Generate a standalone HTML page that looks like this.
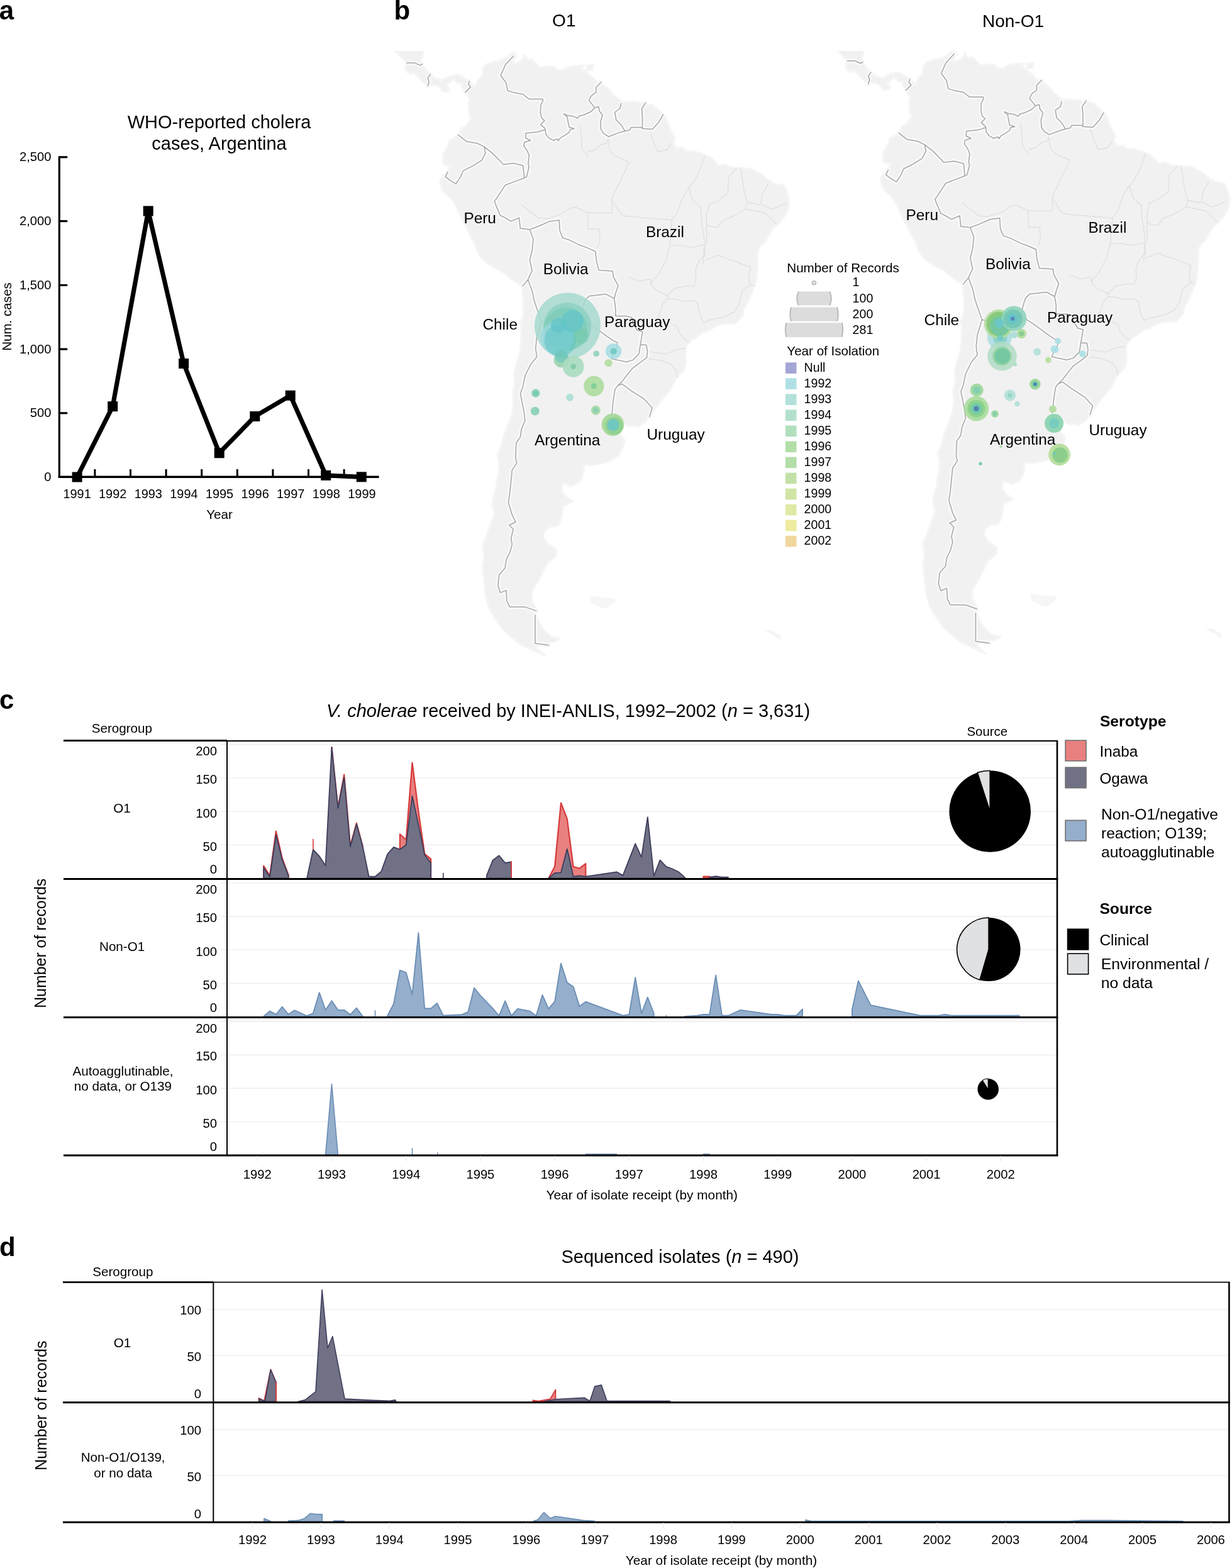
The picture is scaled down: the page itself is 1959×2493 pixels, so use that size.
<!DOCTYPE html>
<html><head><meta charset="utf-8"><title>Figure</title>
<style>html,body{margin:0;padding:0;background:#fff;} svg{display:block;} text{font-family:'Liberation Sans', Arial, Helvetica, sans-serif;}</style>
</head><body>
<svg width="1959" height="2493" viewBox="0 0 1959 2493" font-family="'Liberation Sans', Arial, Helvetica, sans-serif">
<rect width="1959" height="2493" fill="#fff"/>
<text x="626.6" y="31.0" font-size="42" font-weight="bold">b</text>
<text x="896.8" y="42.3" font-size="28" text-anchor="middle">O1</text>
<text x="1611.0" y="43.0" font-size="28" text-anchor="middle">Non-O1</text>
<defs><clipPath id="clipO1"><rect x="560" y="81" width="740" height="1000"/></clipPath><clipPath id="clipNon"><rect x="1300" y="81" width="659" height="1000"/></clipPath></defs>
<g clip-path="url(#clipO1)">
<path d="M613.4,69.1 L673.1,69.1 L673.1,77.7 L671.9,88.7 L669.5,97.2 L670.7,102.1 L675.5,108.1 L679.1,113.0 L685.0,118.4 L688.6,122.7 L694.6,125.1 L703.0,127.5 L710.1,123.9 L716.1,120.9 L726.8,118.4 L735.2,121.5 L741.2,126.3 L745.9,129.3 L751.9,133.6 L753.1,138.4 L756.7,134.8 L759.1,127.5 L765.0,122.7 L767.4,119.7 L767.4,113.0 L768.6,107.5 L772.2,103.3 L777.0,100.8 L783.0,99.6 L784.2,97.8 L792.5,97.2 L799.7,94.2 L806.8,90.5 L811.0,86.2 L814.6,83.2 L818.8,85.0 L821.2,89.9 L815.8,96.0 L815.2,100.8 L820.0,100.8 L827.1,97.8 L831.9,93.5 L833.7,86.2 L836.7,92.3 L839.1,95.4 L846.2,94.8 L853.4,102.1 L858.2,106.9 L866.5,106.3 L871.3,105.7 L880.9,105.7 L884.4,110.6 L894.0,111.8 L902.4,107.5 L908.3,105.7 L917.9,104.5 L929.8,103.9 L926.2,106.9 L922.7,108.1 L929.8,113.0 L934.6,116.6 L941.8,122.7 L947.7,129.9 L953.7,131.1 L963.3,138.4 L970.4,144.4 L975.8,151.6 L983.5,157.6 L988.3,161.2 L997.9,161.8 L1011.0,161.8 L1019.4,163.6 L1025.3,164.2 L1037.3,167.2 L1045.6,173.8 L1052.8,180.4 L1054.0,182.8 L1058.8,186.4 L1062.4,197.2 L1067.1,209.1 L1073.1,218.7 L1070.7,227.0 L1075.5,235.4 L1085.0,234.8 L1092.2,240.2 L1099.4,240.2 L1108.9,242.0 L1120.9,246.1 L1130.4,250.9 L1138.8,259.3 L1141.2,263.5 L1150.7,261.7 L1162.6,265.8 L1171.0,267.0 L1182.9,267.6 L1194.9,268.8 L1210.4,277.2 L1222.3,286.8 L1233.1,292.8 L1246.2,294.6 L1249.8,302.4 L1252.8,310.8 L1254.6,318.6 L1254.0,328.8 L1249.8,339.7 L1243.8,349.4 L1235.5,357.9 L1228.3,364.5 L1222.3,373.7 L1216.4,384.7 L1210.4,389.6 L1205.6,396.9 L1204.4,411.7 L1204.4,426.6 L1202.1,447.8 L1196.1,464.1 L1188.9,480.6 L1181.8,493.4 L1180.6,502.4 L1168.6,514.7 L1155.5,514.7 L1144.7,516.0 L1135.2,520.5 L1126.8,525.7 L1117.3,528.3 L1108.9,534.9 L1098.2,541.4 L1091.0,552.0 L1089.8,562.7 L1091.0,576.1 L1087.4,589.6 L1076.7,599.2 L1069.5,612.9 L1063.5,622.6 L1054.0,633.8 L1046.8,642.3 L1039.7,653.6 L1032.5,661.5 L1026.5,670.9 L1014.6,678.9 L1007.4,676.7 L999.1,678.1 L989.5,671.6 L980.0,671.6 L974.0,666.6 L971.6,670.2 L972.8,673.8 L980.0,679.6 L987.1,684.0 L985.9,691.3 L993.1,698.7 L991.9,707.6 L983.5,724.2 L971.6,731.8 L956.1,737.1 L939.4,739.4 L927.4,737.9 L928.6,745.6 L926.2,758.0 L920.3,767.4 L908.3,773.0 L895.2,767.4 L892.8,780.1 L900.0,789.8 L910.7,796.2 L903.6,801.1 L895.2,804.4 L894.0,814.2 L891.6,827.5 L886.8,835.9 L874.9,837.6 L866.5,844.4 L863.6,853.0 L870.1,863.4 L879.7,870.3 L885.0,873.8 L883.3,884.4 L868.9,897.0 L863.0,909.7 L855.8,924.4 L853.4,927.2 L846.2,939.4 L845.0,954.6 L853.4,969.2 L851.0,974.1 L854.6,984.0 L861.8,998.0 L871.3,1008.2 L876.1,1012.3 L890.4,1015.4 L882.1,1020.5 L866.5,1021.6 L852.2,1028.9 L866.5,1042.6 L846.2,1033.1 L828.3,1024.7 L812.8,1012.3 L800.9,1002.0 L786.5,982.0 L778.2,968.2 L772.2,947.0 L769.8,924.4 L767.4,902.4 L769.8,884.4 L767.4,866.8 L774.6,849.6 L780.6,832.6 L786.5,815.9 L783.0,802.7 L785.3,786.6 L788.9,777.0 L790.1,764.3 L793.7,751.8 L793.7,739.4 L791.3,722.7 L796.1,712.1 L798.5,703.2 L800.9,692.8 L805.6,682.5 L810.4,668.0 L814.0,659.4 L815.2,650.8 L816.4,639.5 L815.2,625.4 L818.8,607.4 L817.6,593.7 L821.2,577.4 L824.7,569.4 L827.1,558.7 L828.3,546.7 L828.3,533.6 L829.5,523.1 L827.1,515.3 L831.9,503.7 L833.1,489.5 L832.5,479.3 L830.7,466.7 L830.7,456.6 L823.6,450.3 L818.2,447.2 L809.2,440.3 L802.1,434.0 L790.1,427.8 L779.4,421.6 L771.0,415.4 L763.9,408.0 L759.1,399.4 L756.7,390.8 L753.1,383.4 L748.9,377.9 L745.9,371.2 L742.4,362.7 L736.4,353.0 L731.6,342.1 L726.8,331.2 L720.9,320.4 L716.1,314.4 L705.3,304.8 L701.8,298.8 L701.2,294.0 L699.4,288.6 L703.0,280.8 L710.7,273.6 L714.9,266.4 L717.3,262.9 L712.5,262.9 L708.9,262.9 L703.6,259.3 L705.3,252.1 L704.2,244.9 L709.5,237.8 L713.7,228.2 L714.9,223.4 L719.7,220.5 L726.8,216.3 L728.6,215.7 L730.4,211.5 L734.0,203.1 L741.2,200.8 L747.1,191.2 L749.5,186.4 L745.9,181.6 L745.9,173.2 L744.8,166.0 L747.1,158.8 L744.8,154.0 L740.0,146.8 L736.4,142.0 L734.0,136.0 L737.6,132.3 L728.0,132.3 L720.9,125.7 L713.7,132.3 L710.1,134.8 L714.9,143.2 L710.1,146.2 L704.2,145.6 L700.6,140.8 L694.6,136.0 L687.4,134.8 L680.3,136.6 L675.5,132.3 L670.7,128.7 L664.8,121.5 L658.8,116.6 L655.2,113.0 L654.0,117.8 L646.8,114.2 L644.5,108.1 L645.6,102.1 L646.8,99.6 L640.9,93.5 L633.7,86.2 L628.9,82.6 L624.2,76.4 L613.4,69.1 Z M931.0,112.4 L934.6,103.9 L943.0,102.7 L941.8,111.2 Z" fill="#f1f1f1" stroke="#f5f5f5" stroke-width="3" stroke-linejoin="round"/>
<path d="M938.2,947.0 L951.3,948.9 L963.3,950.8 L975.2,950.8 L980.0,954.6 L971.6,962.4 L962.1,968.2 L951.3,964.3 L939.4,958.5 Z" fill="#f6f6f6"/>
<path d="M1216.4,1002.0 L1228.3,1003.1 L1240.3,1010.2 L1242.6,1018.5 L1233.1,1012.3 L1221.2,1006.1 Z" fill="#f5f5f5"/>
<path d="M922.2,200.0 L924.5,218.3 L925.2,235.0 L932.9,245.7 L935.1,248.7 M935.1,241.1 L946.6,238.1 L954.2,230.4 L964.8,227.4 L967.1,219.8 L967.9,210.0 M967.1,219.8 L969.4,238.1 L977.0,247.2 L993.8,254.8 L999.8,257.8 M999.8,257.8 L992.2,276.1 L983.1,294.4 L974.0,312.7 L972.4,318.7 L974.0,337.0 L972.4,338.5 M972.4,338.5 L934.4,338.5 L925.2,334.0 L916.1,329.4 L907.0,330.9 L893.3,340.0 L870.4,347.7 L855.2,346.1 L840.0,334.0 L830.0,326.0 M934.4,338.5 L935.1,364.4 L952.6,364.4 L954.2,382.7 L949.6,394.9 M974.0,318.7 L977.0,324.8 L989.2,343.1 L1022.7,346.1 L1068.3,349.9 M1068.3,349.9 L1077.5,337.0 L1083.6,318.7 L1091.2,303.5 L1095.2,298.7 M1068.3,349.9 L1065.3,390.3 L1059.2,413.1 L1047.0,436.0 L1034.9,451.2 L1034.8,444.4 M1065.3,390.3 L1083.6,390.3 L1100.0,393.3 L1119.8,389.0 M1030.3,200.0 L1037.9,222.8 L1045.5,241.1 L1060.7,238.1 L1068.3,227.4 M1000.0,440.5 L1016.7,447.0 L1029.6,444.4 L1034.8,444.4 L1036.1,454.7 L1045.1,462.4 L1061.8,470.2 L1061.8,475.3 M1061.8,470.2 L1072.1,458.6 L1090.2,454.7 L1103.0,454.7 L1106.9,444.4 L1105.6,431.5 L1109.5,418.6 L1115.9,410.9 L1121.1,405.8 L1119.8,389.0 L1118.1,420.0 M1121.1,413.5 L1141.7,405.8 L1150.7,409.6 L1173.9,417.4 L1193.2,425.1 L1190.6,444.4 L1193.2,452.1 L1180.3,462.4 L1175.2,483.0 L1167.5,495.9 L1152.0,503.6 L1128.8,508.8 L1118.5,512.7 L1113.3,502.4 L1109.5,483.0 L1103.0,477.9 L1087.6,479.2 L1072.1,475.3 L1061.8,475.3 M1193.2,452.1 L1200.0,455.0 M1061.8,475.3 L1054.1,483.0 L1050.2,495.9 L1046.4,506.2 M1067.0,515.2 L1077.3,519.1 L1079.9,529.4 L1090.2,541.0 L1096.6,543.6 M1030.9,559.0 L1058.0,562.9 L1077.3,555.2 L1090.2,553.9 M1030.9,570.6 L1051.5,573.2 L1067.0,579.6 L1074.7,588.6 L1077.3,600.0 M1120.8,247.5 L1114.1,267.7 L1103.3,289.3 L1095.2,298.7 M1095.2,298.7 L1101.9,318.9 L1114.1,329.7 L1115.4,348.5 L1120.8,388.9 M1172.0,266.4 L1158.5,281.2 L1157.2,308.1 L1142.3,318.9 L1127.5,325.6 L1123.5,341.8 L1123.5,389.0 M1177.4,267.7 L1180.0,281.2 L1182.7,301.4 L1188.1,321.6 L1185.4,332.4 M1185.4,332.4 L1174.7,339.1 L1161.2,345.8 L1147.7,351.2 L1141.0,362.0 L1127.5,359.3 L1123.5,355.3 M1221.8,292.0 L1212.4,308.1 L1209.7,324.3 L1227.2,332.4 L1250.1,322.9 M1188.1,321.6 L1208.3,325.6 M1185.4,332.4 L1201.6,335.1 L1217.8,339.1 L1235.3,356.6" fill="none" stroke="#dcdcdc" stroke-width="1.1" stroke-linejoin="round"/>
<path d="M646.8,100.0 L658.8,99.9 L668.3,103.9 L671.3,101.8 M684.3,118.3 L680.3,123.9 L682.1,129.9 L680.3,136.6 M746.3,129.1 L744.8,133.6 L748.3,138.4 L740.0,146.6 M816.7,89.0 L803.6,103.1 L796.1,120.0 L804.5,131.2 L807.4,144.3 L816.7,147.1 L831.7,150.0 L841.1,157.4 L862.6,157.4 L863.5,160.0 L859.7,167.6 L859.3,179.0 L861.2,187.4 L865.8,192.0 L859.7,198.1 L866.5,204.1 L867.0,206.0 M867.0,206.0 L868.0,213.3 L872.6,219.4 L879.5,223.2 L886.3,220.9 L887.8,223.9 L890.9,219.4 L898.5,214.8 L905.3,210.2 L906.1,206.4 L913.0,204.5 L905.0,202.2 L903.1,192.7 L901.9,185.9 L896.2,180.9 L903.1,183.6 L912.2,185.1 L918.3,188.2 L921.3,184.4 L928.2,182.8 L939.6,177.5 L945.7,171.4 M955.8,130.7 L947.9,138.7 L947.9,146.7 L939.9,152.6 L936.5,160.0 L941.9,166.1 L945.7,171.4 M945.7,171.4 L951.8,169.5 L953.3,176.7 L957.9,182.8 L954.8,194.2 L955.6,205.7 L959.4,211.8 L967.8,217.3 L985.7,210.4 L993.7,208.4 M987.7,164.6 L985.7,172.5 L977.7,178.5 L979.7,190.5 L987.7,198.4 L993.7,208.4 M993.7,208.4 L1001.6,206.4 L1003.6,202.4 L1019.5,202.4 L1021.5,204.4 M1026.5,163.6 L1020.5,172.5 L1021.5,186.5 L1021.5,204.4 M1021.5,204.4 L1037.4,205.4 L1047.4,194.4 L1054.4,182.5 M867.0,206.0 L855.1,209.8 L836.1,211.8 L835.7,219.4 L843.7,223.2 L833.8,226.2 L833.0,232.3 L838.4,239.9 L841.4,247.5 L839.9,260.0 L841.1,266.0 L837.3,281.1 L833.6,283.0 M728.7,214.6 L741.8,224.9 L758.6,227.7 L769.9,233.3 M769.9,233.3 L783.0,243.6 L796.1,256.7 L799.9,261.4 L816.7,259.5 L831.7,263.3 L833.6,283.0 M769.9,233.3 L771.8,243.6 L766.1,254.9 L751.1,264.2 L736.2,271.7 L732.4,281.1 L724.9,292.3 L715.5,286.7 L708.1,281.1 L711.8,273.6 M833.6,283.0 L818.6,288.6 L803.6,294.2 L796.1,305.4 L790.0,315.0 L786.1,320.0 L789.9,329.4 L795.5,342.5 L803.0,346.2 L812.4,351.9 L825.5,346.2 L827.3,363.1 L842.3,365.0 M842.3,365.0 L848.0,380.0 L846.1,398.7 L842.3,413.7 L846.1,430.5 L839.5,444.6 M839.5,444.6 L831.1,454.9 M842.3,365.0 L857.3,359.3 L874.2,351.9 L889.2,350.0 L890.1,366.8 L894.8,378.1 L906.0,381.8 L921.0,389.3 L936.0,394.9 L946.9,400.0 L948.2,414.2 L952.1,429.6 L974.0,430.9 L975.2,439.9 L983.0,454.1 L979.1,465.7 L976.5,474.7 M839.5,444.6 L846.1,462.4 L849.8,479.3 L855.5,496.1 L861.0,511.5 M976.5,474.7 L963.6,467.6 L936.6,470.8 L930.2,477.3 L927.6,485.0 L922.2,505.3 M922.2,505.3 L907.2,502.4 L898.8,510.1 L885.6,503.7 L878.5,499.7 L868.0,513.1 L861.0,511.5 M861.0,511.5 L853.6,535.5 L851.7,554.2 L853.6,567.5 L844.3,578.7 L834.9,597.5 L831.1,616.2 L827.4,625.6 L829.3,634.9 L833.0,653.7 L834.9,668.7 L829.3,681.8 L827.4,694.9 L820.8,704.3 L819.9,728.6 L821.8,736.1 L814.3,747.4 L812.4,766.1 L810.5,784.8 L808.7,796.1 L808.7,800.0 L814.3,818.7 L820.0,830.0 L809.6,834.7 L816.2,841.2 L812.5,856.2 L814.3,865.6 L810.6,878.7 L805.0,889.9 L803.1,903.0 L793.7,914.3 L791.8,931.1 L795.6,942.4 L805.0,938.6 L805.9,955.5 L810.6,964.9 L834.9,964.9 L852.7,971.4 M850.9,978.0 L850.9,1023.0 L872.4,1025.8 M922.2,505.3 L941.8,517.6 L953.7,526.3 L965.6,535.1 L975.2,541.6 L981.8,544.7 L981.2,551.8 L976.4,559.7 L972.0,570.2 L982.2,572.6 L996.2,575.5 L1006.0,572.6 L1015.9,562.8 L1018.2,548.1 M1018.2,548.1 L1021.8,527.2 L1013.4,525.2 L1006.3,513.9 L1005.1,505.0 L995.5,502.4 L978.8,502.4 L978.8,489.0 L976.5,474.7 M1018.2,548.1 L1027.7,548.6 L1029.5,558.0 L1028.5,568.4 L1018.7,576.0 L1006.0,585.3 L999.0,593.7 L989.2,606.4 L982.2,613.4 M982.2,613.4 L977.9,619.0 L975.1,637.3 L973.7,652.7 L972.3,660.0 M982.2,613.4 L989.2,610.6 L1004.6,621.8 L1024.3,634.5 L1037.0,648.5 L1032.7,662.6" fill="none" stroke="#f8f8f8" stroke-width="7" stroke-linejoin="round" stroke-linecap="round"/>
<path d="M646.8,100.0 L658.8,99.9 L668.3,103.9 L671.3,101.8 M684.3,118.3 L680.3,123.9 L682.1,129.9 L680.3,136.6 M746.3,129.1 L744.8,133.6 L748.3,138.4 L740.0,146.6 M816.7,89.0 L803.6,103.1 L796.1,120.0 L804.5,131.2 L807.4,144.3 L816.7,147.1 L831.7,150.0 L841.1,157.4 L862.6,157.4 L863.5,160.0 L859.7,167.6 L859.3,179.0 L861.2,187.4 L865.8,192.0 L859.7,198.1 L866.5,204.1 L867.0,206.0 M867.0,206.0 L868.0,213.3 L872.6,219.4 L879.5,223.2 L886.3,220.9 L887.8,223.9 L890.9,219.4 L898.5,214.8 L905.3,210.2 L906.1,206.4 L913.0,204.5 L905.0,202.2 L903.1,192.7 L901.9,185.9 L896.2,180.9 L903.1,183.6 L912.2,185.1 L918.3,188.2 L921.3,184.4 L928.2,182.8 L939.6,177.5 L945.7,171.4 M955.8,130.7 L947.9,138.7 L947.9,146.7 L939.9,152.6 L936.5,160.0 L941.9,166.1 L945.7,171.4 M945.7,171.4 L951.8,169.5 L953.3,176.7 L957.9,182.8 L954.8,194.2 L955.6,205.7 L959.4,211.8 L967.8,217.3 L985.7,210.4 L993.7,208.4 M987.7,164.6 L985.7,172.5 L977.7,178.5 L979.7,190.5 L987.7,198.4 L993.7,208.4 M993.7,208.4 L1001.6,206.4 L1003.6,202.4 L1019.5,202.4 L1021.5,204.4 M1026.5,163.6 L1020.5,172.5 L1021.5,186.5 L1021.5,204.4 M1021.5,204.4 L1037.4,205.4 L1047.4,194.4 L1054.4,182.5 M867.0,206.0 L855.1,209.8 L836.1,211.8 L835.7,219.4 L843.7,223.2 L833.8,226.2 L833.0,232.3 L838.4,239.9 L841.4,247.5 L839.9,260.0 L841.1,266.0 L837.3,281.1 L833.6,283.0 M728.7,214.6 L741.8,224.9 L758.6,227.7 L769.9,233.3 M769.9,233.3 L783.0,243.6 L796.1,256.7 L799.9,261.4 L816.7,259.5 L831.7,263.3 L833.6,283.0 M769.9,233.3 L771.8,243.6 L766.1,254.9 L751.1,264.2 L736.2,271.7 L732.4,281.1 L724.9,292.3 L715.5,286.7 L708.1,281.1 L711.8,273.6 M833.6,283.0 L818.6,288.6 L803.6,294.2 L796.1,305.4 L790.0,315.0 L786.1,320.0 L789.9,329.4 L795.5,342.5 L803.0,346.2 L812.4,351.9 L825.5,346.2 L827.3,363.1 L842.3,365.0 M842.3,365.0 L848.0,380.0 L846.1,398.7 L842.3,413.7 L846.1,430.5 L839.5,444.6 M839.5,444.6 L831.1,454.9 M842.3,365.0 L857.3,359.3 L874.2,351.9 L889.2,350.0 L890.1,366.8 L894.8,378.1 L906.0,381.8 L921.0,389.3 L936.0,394.9 L946.9,400.0 L948.2,414.2 L952.1,429.6 L974.0,430.9 L975.2,439.9 L983.0,454.1 L979.1,465.7 L976.5,474.7 M839.5,444.6 L846.1,462.4 L849.8,479.3 L855.5,496.1 L861.0,511.5 M976.5,474.7 L963.6,467.6 L936.6,470.8 L930.2,477.3 L927.6,485.0 L922.2,505.3 M922.2,505.3 L907.2,502.4 L898.8,510.1 L885.6,503.7 L878.5,499.7 L868.0,513.1 L861.0,511.5 M861.0,511.5 L853.6,535.5 L851.7,554.2 L853.6,567.5 L844.3,578.7 L834.9,597.5 L831.1,616.2 L827.4,625.6 L829.3,634.9 L833.0,653.7 L834.9,668.7 L829.3,681.8 L827.4,694.9 L820.8,704.3 L819.9,728.6 L821.8,736.1 L814.3,747.4 L812.4,766.1 L810.5,784.8 L808.7,796.1 L808.7,800.0 L814.3,818.7 L820.0,830.0 L809.6,834.7 L816.2,841.2 L812.5,856.2 L814.3,865.6 L810.6,878.7 L805.0,889.9 L803.1,903.0 L793.7,914.3 L791.8,931.1 L795.6,942.4 L805.0,938.6 L805.9,955.5 L810.6,964.9 L834.9,964.9 L852.7,971.4 M850.9,978.0 L850.9,1023.0 L872.4,1025.8 M922.2,505.3 L941.8,517.6 L953.7,526.3 L965.6,535.1 L975.2,541.6 L981.8,544.7 L981.2,551.8 L976.4,559.7 L972.0,570.2 L982.2,572.6 L996.2,575.5 L1006.0,572.6 L1015.9,562.8 L1018.2,548.1 M1018.2,548.1 L1021.8,527.2 L1013.4,525.2 L1006.3,513.9 L1005.1,505.0 L995.5,502.4 L978.8,502.4 L978.8,489.0 L976.5,474.7 M1018.2,548.1 L1027.7,548.6 L1029.5,558.0 L1028.5,568.4 L1018.7,576.0 L1006.0,585.3 L999.0,593.7 L989.2,606.4 L982.2,613.4 M982.2,613.4 L977.9,619.0 L975.1,637.3 L973.7,652.7 L972.3,660.0 M982.2,613.4 L989.2,610.6 L1004.6,621.8 L1024.3,634.5 L1037.0,648.5 L1032.7,662.6" fill="none" stroke="#a6a6a6" stroke-width="1.5" stroke-linejoin="round" stroke-linecap="round"/>
</g>
<circle cx="902.5" cy="518.0" r="52.5" fill="#a6d9d0" fill-opacity="0.85"/>
<circle cx="902.0" cy="519.0" r="38.0" fill="#86cfbd" fill-opacity="0.7"/>
<circle cx="899.5" cy="523.0" r="34.5" fill="#6fc7b0" fill-opacity="0.45"/>
<circle cx="885.5" cy="537.5" r="26.0" fill="#9bd8df" fill-opacity="0.75"/>
<circle cx="890.6" cy="541.3" r="25.3" fill="#62c4c4" fill-opacity="0.6"/>
<circle cx="924.3" cy="534.3" r="12.0" fill="#6fc7a6" fill-opacity="0.45"/>
<circle cx="910.3" cy="510.4" r="17.6" fill="#62c4c8" fill-opacity="0.75"/>
<circle cx="887.8" cy="517.4" r="12.0" fill="#62c4c8" fill-opacity="0.75"/>
<circle cx="892.7" cy="572.2" r="12.0" fill="#73c797" fill-opacity="0.65"/>
<circle cx="892.7" cy="565.9" r="10.5" fill="#6cc6c0" fill-opacity="0.7"/>
<circle cx="911.7" cy="582.8" r="16.9" fill="#a9dcc0" fill-opacity="0.9"/>
<circle cx="911.7" cy="582.8" r="4.2" fill="#7fcaa6" fill-opacity="0.9"/>
<circle cx="948.2" cy="562.4" r="4.9" fill="#8fd2b8" fill-opacity="0.9"/>
<circle cx="975.6" cy="558.4" r="12.5" fill="#a3dde3" fill-opacity="0.85"/>
<circle cx="975.6" cy="558.4" r="5.2" fill="#6cc7c0" fill-opacity="0.85"/>
<circle cx="967.5" cy="577.1" r="6.2" fill="#b3dda0" fill-opacity="0.9"/>
<circle cx="944.3" cy="613.8" r="16.1" fill="#a8da98" fill-opacity="0.85"/>
<circle cx="944.3" cy="613.8" r="4.5" fill="#7ccc98" fill-opacity="0.9"/>
<circle cx="851.8" cy="625.2" r="6.6" fill="#80cfb0" fill-opacity="0.85"/>
<circle cx="851.8" cy="625.2" r="3.5" fill="#6cc8b0" fill-opacity="0.8"/>
<circle cx="850.8" cy="653.7" r="6.9" fill="#7fcfb0" fill-opacity="0.85"/>
<circle cx="906.1" cy="632.1" r="6.0" fill="#aadfd6" fill-opacity="0.9"/>
<circle cx="947.3" cy="652.2" r="7.5" fill="#a5d9a4" fill-opacity="0.9"/>
<circle cx="947.3" cy="652.2" r="4.5" fill="#8bd0b0" fill-opacity="0.9"/>
<circle cx="974.5" cy="675.2" r="17.8" fill="#a2d795" fill-opacity="0.9"/>
<circle cx="976.5" cy="677.0" r="14.0" fill="#80cc8c" fill-opacity="0.6"/>
<circle cx="975.0" cy="675.5" r="9.5" fill="#68c7c8" fill-opacity="0.85"/>
<g clip-path="url(#clipNon)">
<path d="M1313.9,65.9 L1373.6,65.9 L1373.6,74.5 L1372.4,85.5 L1370.0,94.0 L1371.2,98.9 L1376.0,104.9 L1379.6,109.8 L1385.5,115.2 L1389.1,119.5 L1395.1,121.9 L1403.5,124.3 L1410.6,120.7 L1416.6,117.7 L1427.3,115.2 L1435.7,118.3 L1441.7,123.1 L1446.4,126.1 L1452.4,130.4 L1453.6,135.2 L1457.2,131.6 L1459.6,124.3 L1465.5,119.5 L1467.9,116.5 L1467.9,109.8 L1469.1,104.3 L1472.7,100.1 L1477.5,97.6 L1483.5,96.4 L1484.7,94.6 L1493.0,94.0 L1500.2,91.0 L1507.3,87.3 L1511.5,83.0 L1515.1,80.0 L1519.3,81.8 L1521.7,86.7 L1516.3,92.8 L1515.7,97.6 L1520.5,97.6 L1527.6,94.6 L1532.4,90.3 L1534.2,83.0 L1537.2,89.1 L1539.6,92.2 L1546.7,91.6 L1553.9,98.9 L1558.7,103.7 L1567.0,103.1 L1571.8,102.5 L1581.4,102.5 L1584.9,107.4 L1594.5,108.6 L1602.9,104.3 L1608.8,102.5 L1618.4,101.3 L1630.3,100.7 L1626.7,103.7 L1623.2,104.9 L1630.3,109.8 L1635.1,113.4 L1642.3,119.5 L1648.2,126.7 L1654.2,127.9 L1663.8,135.2 L1670.9,141.2 L1676.3,148.4 L1684.0,154.4 L1688.8,158.0 L1698.4,158.6 L1711.5,158.6 L1719.9,160.4 L1725.8,161.0 L1737.8,164.0 L1746.1,170.6 L1753.3,177.2 L1754.5,179.6 L1759.3,183.2 L1762.9,194.0 L1767.6,205.9 L1773.6,215.5 L1771.2,223.8 L1776.0,232.2 L1785.5,231.6 L1792.7,237.0 L1799.9,237.0 L1809.4,238.8 L1821.4,242.9 L1830.9,247.7 L1839.3,256.1 L1841.7,260.3 L1851.2,258.5 L1863.1,262.6 L1871.5,263.8 L1883.4,264.4 L1895.4,265.6 L1910.9,274.0 L1922.8,283.6 L1933.6,289.6 L1946.7,291.4 L1950.3,299.2 L1953.3,307.6 L1955.1,315.4 L1954.5,325.6 L1950.3,336.5 L1944.3,346.2 L1936.0,354.7 L1928.8,361.3 L1922.8,370.5 L1916.9,381.5 L1910.9,386.4 L1906.1,393.7 L1904.9,408.5 L1904.9,423.4 L1902.6,444.6 L1896.6,460.9 L1889.4,477.4 L1882.3,490.2 L1881.1,499.2 L1869.1,511.5 L1856.0,511.5 L1845.2,512.8 L1835.7,517.3 L1827.3,522.5 L1817.8,525.1 L1809.4,531.7 L1798.7,538.2 L1791.5,548.8 L1790.3,559.5 L1791.5,572.9 L1787.9,586.4 L1777.2,596.0 L1770.0,609.7 L1764.0,619.4 L1754.5,630.6 L1747.3,639.1 L1740.2,650.4 L1733.0,658.3 L1727.0,667.7 L1715.1,675.7 L1707.9,673.5 L1699.6,674.9 L1690.0,668.4 L1680.5,668.4 L1674.5,663.4 L1672.1,667.0 L1673.3,670.6 L1680.5,676.4 L1687.6,680.8 L1686.4,688.1 L1693.6,695.5 L1692.4,704.4 L1684.0,721.0 L1672.1,728.6 L1656.6,733.9 L1639.9,736.2 L1627.9,734.7 L1629.1,742.4 L1626.7,754.8 L1620.8,764.2 L1608.8,769.8 L1595.7,764.2 L1593.3,776.9 L1600.5,786.6 L1611.2,793.0 L1604.1,797.9 L1595.7,801.2 L1594.5,811.0 L1592.1,824.3 L1587.3,832.7 L1575.4,834.4 L1567.0,841.2 L1564.1,849.8 L1570.6,860.2 L1580.2,867.1 L1585.5,870.6 L1583.8,881.2 L1569.4,893.8 L1563.5,906.5 L1556.3,921.2 L1553.9,924.0 L1546.7,936.2 L1545.5,951.4 L1553.9,966.0 L1551.5,970.9 L1555.1,980.8 L1562.3,994.8 L1571.8,1005.0 L1576.6,1009.1 L1590.9,1012.2 L1582.6,1017.3 L1567.0,1018.4 L1552.7,1025.7 L1567.0,1039.4 L1546.7,1029.9 L1528.8,1021.5 L1513.3,1009.1 L1501.4,998.8 L1487.0,978.8 L1478.7,965.0 L1472.7,943.8 L1470.3,921.2 L1467.9,899.2 L1470.3,881.2 L1467.9,863.6 L1475.1,846.4 L1481.1,829.4 L1487.0,812.7 L1483.5,799.5 L1485.8,783.4 L1489.4,773.8 L1490.6,761.1 L1494.2,748.6 L1494.2,736.2 L1491.8,719.5 L1496.6,708.9 L1499.0,700.0 L1501.4,689.6 L1506.1,679.3 L1510.9,664.8 L1514.5,656.2 L1515.7,647.6 L1516.9,636.3 L1515.7,622.2 L1519.3,604.2 L1518.1,590.5 L1521.7,574.2 L1525.2,566.2 L1527.6,555.5 L1528.8,543.5 L1528.8,530.4 L1530.0,519.9 L1527.6,512.1 L1532.4,500.5 L1533.6,486.3 L1533.0,476.1 L1531.2,463.5 L1531.2,453.4 L1524.1,447.1 L1518.7,444.0 L1509.7,437.1 L1502.6,430.8 L1490.6,424.6 L1479.9,418.4 L1471.5,412.2 L1464.4,404.8 L1459.6,396.2 L1457.2,387.6 L1453.6,380.2 L1449.4,374.7 L1446.4,368.0 L1442.9,359.5 L1436.9,349.8 L1432.1,338.9 L1427.3,328.0 L1421.4,317.2 L1416.6,311.2 L1405.8,301.6 L1402.3,295.6 L1401.7,290.8 L1399.9,285.4 L1403.5,277.6 L1411.2,270.4 L1415.4,263.2 L1417.8,259.7 L1413.0,259.7 L1409.4,259.7 L1404.1,256.1 L1405.8,248.9 L1404.7,241.7 L1410.0,234.6 L1414.2,225.0 L1415.4,220.2 L1420.2,217.3 L1427.3,213.1 L1429.1,212.5 L1430.9,208.3 L1434.5,199.9 L1441.7,197.6 L1447.6,188.0 L1450.0,183.2 L1446.4,178.4 L1446.4,170.0 L1445.2,162.8 L1447.6,155.6 L1445.2,150.8 L1440.5,143.6 L1436.9,138.8 L1434.5,132.8 L1438.1,129.1 L1428.5,129.1 L1421.4,122.5 L1414.2,129.1 L1410.6,131.6 L1415.4,140.0 L1410.6,143.0 L1404.7,142.4 L1401.1,137.6 L1395.1,132.8 L1387.9,131.6 L1380.8,133.4 L1376.0,129.1 L1371.2,125.5 L1365.3,118.3 L1359.3,113.4 L1355.7,109.8 L1354.5,114.6 L1347.3,111.0 L1345.0,104.9 L1346.1,98.9 L1347.3,96.4 L1341.4,90.3 L1334.2,83.0 L1329.4,79.4 L1324.7,73.2 L1313.9,65.9 Z M1631.5,109.2 L1635.1,100.7 L1643.5,99.5 L1642.3,108.0 Z" fill="#f1f1f1" stroke="#f5f5f5" stroke-width="3" stroke-linejoin="round"/>
<path d="M1638.7,943.8 L1651.8,945.7 L1663.8,947.6 L1675.7,947.6 L1680.5,951.4 L1672.1,959.2 L1662.6,965.0 L1651.8,961.1 L1639.9,955.3 Z" fill="#f6f6f6"/>
<path d="M1916.9,998.8 L1928.8,999.9 L1940.8,1007.0 L1943.1,1015.3 L1933.6,1009.1 L1921.7,1002.9 Z" fill="#f5f5f5"/>
<path d="M1622.7,196.8 L1625.0,215.1 L1625.7,231.8 L1633.4,242.5 L1635.6,245.5 M1635.6,237.9 L1647.1,234.9 L1654.7,227.2 L1665.3,224.2 L1667.6,216.6 L1668.4,206.8 M1667.6,216.6 L1669.9,234.9 L1677.5,244.0 L1694.3,251.6 L1700.3,254.6 M1700.3,254.6 L1692.7,272.9 L1683.6,291.2 L1674.5,309.5 L1672.9,315.5 L1674.5,333.8 L1672.9,335.3 M1672.9,335.3 L1634.9,335.3 L1625.7,330.8 L1616.6,326.2 L1607.5,327.7 L1593.8,336.8 L1570.9,344.5 L1555.7,342.9 L1540.5,330.8 L1530.5,322.8 M1634.9,335.3 L1635.6,361.2 L1653.1,361.2 L1654.7,379.5 L1650.1,391.7 M1674.5,315.5 L1677.5,321.6 L1689.7,339.9 L1723.2,342.9 L1768.8,346.7 M1768.8,346.7 L1778.0,333.8 L1784.1,315.5 L1791.7,300.3 L1795.7,295.5 M1768.8,346.7 L1765.8,387.1 L1759.7,409.9 L1747.5,432.8 L1735.4,448.0 L1735.3,441.2 M1765.8,387.1 L1784.1,387.1 L1800.5,390.1 L1820.3,385.8 M1730.8,196.8 L1738.4,219.6 L1746.0,237.9 L1761.2,234.9 L1768.8,224.2 M1700.5,437.3 L1717.2,443.8 L1730.1,441.2 L1735.3,441.2 L1736.6,451.5 L1745.6,459.2 L1762.3,467.0 L1762.3,472.1 M1762.3,467.0 L1772.6,455.4 L1790.7,451.5 L1803.5,451.5 L1807.4,441.2 L1806.1,428.3 L1810.0,415.4 L1816.4,407.7 L1821.6,402.6 L1820.3,385.8 L1818.6,416.8 M1821.6,410.3 L1842.2,402.6 L1851.2,406.4 L1874.4,414.2 L1893.7,421.9 L1891.1,441.2 L1893.7,448.9 L1880.8,459.2 L1875.7,479.8 L1868.0,492.7 L1852.5,500.4 L1829.3,505.6 L1819.0,509.5 L1813.8,499.2 L1810.0,479.8 L1803.5,474.7 L1788.1,476.0 L1772.6,472.1 L1762.3,472.1 M1893.7,448.9 L1900.5,451.8 M1762.3,472.1 L1754.6,479.8 L1750.7,492.7 L1746.9,503.0 M1767.5,512.0 L1777.8,515.9 L1780.4,526.2 L1790.7,537.8 L1797.1,540.4 M1731.4,555.8 L1758.5,559.7 L1777.8,552.0 L1790.7,550.7 M1731.4,567.4 L1752.0,570.0 L1767.5,576.4 L1775.2,585.4 L1777.8,596.8 M1821.3,244.3 L1814.6,264.5 L1803.8,286.1 L1795.7,295.5 M1795.7,295.5 L1802.4,315.7 L1814.6,326.5 L1815.9,345.3 L1821.3,385.7 M1872.5,263.2 L1859.0,278.0 L1857.7,304.9 L1842.8,315.7 L1828.0,322.4 L1824.0,338.6 L1824.0,385.8 M1877.9,264.5 L1880.5,278.0 L1883.2,298.2 L1888.6,318.4 L1885.9,329.2 M1885.9,329.2 L1875.2,335.9 L1861.7,342.6 L1848.2,348.0 L1841.5,358.8 L1828.0,356.1 L1824.0,352.1 M1922.3,288.8 L1912.9,304.9 L1910.2,321.1 L1927.7,329.2 L1950.6,319.7 M1888.6,318.4 L1908.8,322.4 M1885.9,329.2 L1902.1,331.9 L1918.3,335.9 L1935.8,353.4" fill="none" stroke="#dcdcdc" stroke-width="1.1" stroke-linejoin="round"/>
<path d="M1347.3,96.8 L1359.3,96.7 L1368.8,100.7 L1371.8,98.6 M1384.8,115.1 L1380.8,120.7 L1382.6,126.7 L1380.8,133.4 M1446.8,125.9 L1445.2,130.4 L1448.8,135.2 L1440.5,143.4 M1517.2,85.8 L1504.1,99.9 L1496.6,116.8 L1505.0,128.0 L1507.9,141.1 L1517.2,143.9 L1532.2,146.8 L1541.6,154.2 L1563.1,154.2 L1564.0,156.8 L1560.2,164.4 L1559.8,175.8 L1561.7,184.2 L1566.3,188.8 L1560.2,194.9 L1567.0,200.9 L1567.5,202.8 M1567.5,202.8 L1568.5,210.1 L1573.1,216.2 L1580.0,220.0 L1586.8,217.7 L1588.3,220.7 L1591.4,216.2 L1599.0,211.6 L1605.8,207.0 L1606.6,203.2 L1613.5,201.3 L1605.5,199.0 L1603.6,189.5 L1602.4,182.7 L1596.7,177.7 L1603.6,180.4 L1612.7,181.9 L1618.8,185.0 L1621.8,181.2 L1628.7,179.6 L1640.1,174.3 L1646.2,168.2 M1656.3,127.5 L1648.4,135.5 L1648.4,143.5 L1640.4,149.4 L1637.0,156.8 L1642.4,162.9 L1646.2,168.2 M1646.2,168.2 L1652.3,166.3 L1653.8,173.5 L1658.4,179.6 L1655.3,191.0 L1656.1,202.5 L1659.9,208.6 L1668.3,214.1 L1686.2,207.2 L1694.2,205.2 M1688.2,161.4 L1686.2,169.3 L1678.2,175.3 L1680.2,187.3 L1688.2,195.2 L1694.2,205.2 M1694.2,205.2 L1702.1,203.2 L1704.1,199.2 L1720.0,199.2 L1722.0,201.2 M1727.0,160.4 L1721.0,169.3 L1722.0,183.3 L1722.0,201.2 M1722.0,201.2 L1737.9,202.2 L1747.9,191.2 L1754.9,179.3 M1567.5,202.8 L1555.6,206.6 L1536.6,208.6 L1536.2,216.2 L1544.2,220.0 L1534.3,223.0 L1533.5,229.1 L1538.9,236.7 L1541.9,244.3 L1540.4,256.8 L1541.6,262.8 L1537.8,277.9 L1534.1,279.8 M1429.2,211.4 L1442.3,221.7 L1459.1,224.5 L1470.4,230.1 M1470.4,230.1 L1483.5,240.4 L1496.6,253.5 L1500.4,258.2 L1517.2,256.3 L1532.2,260.1 L1534.1,279.8 M1470.4,230.1 L1472.3,240.4 L1466.6,251.7 L1451.6,261.0 L1436.7,268.5 L1432.9,277.9 L1425.4,289.1 L1416.0,283.5 L1408.6,277.9 L1412.3,270.4 M1534.1,279.8 L1519.1,285.4 L1504.1,291.0 L1496.6,302.2 L1490.5,311.8 L1486.6,316.8 L1490.4,326.2 L1496.0,339.3 L1503.5,343.0 L1512.9,348.7 L1526.0,343.0 L1527.8,359.9 L1542.8,361.8 M1542.8,361.8 L1548.5,376.8 L1546.6,395.5 L1542.8,410.5 L1546.6,427.3 L1540.0,441.4 M1540.0,441.4 L1531.6,451.7 M1542.8,361.8 L1557.8,356.1 L1574.7,348.7 L1589.7,346.8 L1590.6,363.6 L1595.3,374.9 L1606.5,378.6 L1621.5,386.1 L1636.5,391.7 L1647.4,396.8 L1648.7,411.0 L1652.6,426.4 L1674.5,427.7 L1675.7,436.7 L1683.5,450.9 L1679.6,462.5 L1677.0,471.5 M1540.0,441.4 L1546.6,459.2 L1550.3,476.1 L1556.0,492.9 L1561.5,508.3 M1677.0,471.5 L1664.1,464.4 L1637.1,467.6 L1630.7,474.1 L1628.1,481.8 L1622.7,502.1 M1622.7,502.1 L1607.7,499.2 L1599.3,506.9 L1586.1,500.5 L1579.0,496.5 L1568.5,509.9 L1561.5,508.3 M1561.5,508.3 L1554.1,532.3 L1552.2,551.0 L1554.1,564.3 L1544.8,575.5 L1535.4,594.3 L1531.6,613.0 L1527.9,622.4 L1529.8,631.7 L1533.5,650.5 L1535.4,665.5 L1529.8,678.6 L1527.9,691.7 L1521.3,701.1 L1520.4,725.4 L1522.3,732.9 L1514.8,744.2 L1512.9,762.9 L1511.0,781.6 L1509.2,792.9 L1509.2,796.8 L1514.8,815.5 L1520.5,826.8 L1510.1,831.5 L1516.7,838.0 L1513.0,853.0 L1514.8,862.4 L1511.1,875.5 L1505.5,886.7 L1503.6,899.8 L1494.2,911.1 L1492.3,927.9 L1496.1,939.2 L1505.5,935.4 L1506.4,952.3 L1511.1,961.7 L1535.4,961.7 L1553.2,968.2 M1551.4,974.8 L1551.4,1019.8 L1572.9,1022.6 M1622.7,502.1 L1642.3,514.4 L1654.2,523.1 L1666.1,531.9 L1675.7,538.4 L1682.3,541.5 L1681.7,548.6 L1676.9,556.5 L1672.5,567.0 L1682.7,569.4 L1696.7,572.3 L1706.5,569.4 L1716.4,559.6 L1718.7,544.9 M1718.7,544.9 L1722.3,524.0 L1713.9,522.0 L1706.8,510.7 L1705.6,501.8 L1696.0,499.2 L1679.3,499.2 L1679.3,485.8 L1677.0,471.5 M1718.7,544.9 L1728.2,545.4 L1730.0,554.8 L1729.0,565.2 L1719.2,572.8 L1706.5,582.1 L1699.5,590.5 L1689.7,603.2 L1682.7,610.2 M1682.7,610.2 L1678.4,615.8 L1675.6,634.1 L1674.2,649.5 L1672.8,656.8 M1682.7,610.2 L1689.7,607.4 L1705.1,618.6 L1724.8,631.3 L1737.5,645.3 L1733.2,659.4" fill="none" stroke="#f8f8f8" stroke-width="7" stroke-linejoin="round" stroke-linecap="round"/>
<path d="M1347.3,96.8 L1359.3,96.7 L1368.8,100.7 L1371.8,98.6 M1384.8,115.1 L1380.8,120.7 L1382.6,126.7 L1380.8,133.4 M1446.8,125.9 L1445.2,130.4 L1448.8,135.2 L1440.5,143.4 M1517.2,85.8 L1504.1,99.9 L1496.6,116.8 L1505.0,128.0 L1507.9,141.1 L1517.2,143.9 L1532.2,146.8 L1541.6,154.2 L1563.1,154.2 L1564.0,156.8 L1560.2,164.4 L1559.8,175.8 L1561.7,184.2 L1566.3,188.8 L1560.2,194.9 L1567.0,200.9 L1567.5,202.8 M1567.5,202.8 L1568.5,210.1 L1573.1,216.2 L1580.0,220.0 L1586.8,217.7 L1588.3,220.7 L1591.4,216.2 L1599.0,211.6 L1605.8,207.0 L1606.6,203.2 L1613.5,201.3 L1605.5,199.0 L1603.6,189.5 L1602.4,182.7 L1596.7,177.7 L1603.6,180.4 L1612.7,181.9 L1618.8,185.0 L1621.8,181.2 L1628.7,179.6 L1640.1,174.3 L1646.2,168.2 M1656.3,127.5 L1648.4,135.5 L1648.4,143.5 L1640.4,149.4 L1637.0,156.8 L1642.4,162.9 L1646.2,168.2 M1646.2,168.2 L1652.3,166.3 L1653.8,173.5 L1658.4,179.6 L1655.3,191.0 L1656.1,202.5 L1659.9,208.6 L1668.3,214.1 L1686.2,207.2 L1694.2,205.2 M1688.2,161.4 L1686.2,169.3 L1678.2,175.3 L1680.2,187.3 L1688.2,195.2 L1694.2,205.2 M1694.2,205.2 L1702.1,203.2 L1704.1,199.2 L1720.0,199.2 L1722.0,201.2 M1727.0,160.4 L1721.0,169.3 L1722.0,183.3 L1722.0,201.2 M1722.0,201.2 L1737.9,202.2 L1747.9,191.2 L1754.9,179.3 M1567.5,202.8 L1555.6,206.6 L1536.6,208.6 L1536.2,216.2 L1544.2,220.0 L1534.3,223.0 L1533.5,229.1 L1538.9,236.7 L1541.9,244.3 L1540.4,256.8 L1541.6,262.8 L1537.8,277.9 L1534.1,279.8 M1429.2,211.4 L1442.3,221.7 L1459.1,224.5 L1470.4,230.1 M1470.4,230.1 L1483.5,240.4 L1496.6,253.5 L1500.4,258.2 L1517.2,256.3 L1532.2,260.1 L1534.1,279.8 M1470.4,230.1 L1472.3,240.4 L1466.6,251.7 L1451.6,261.0 L1436.7,268.5 L1432.9,277.9 L1425.4,289.1 L1416.0,283.5 L1408.6,277.9 L1412.3,270.4 M1534.1,279.8 L1519.1,285.4 L1504.1,291.0 L1496.6,302.2 L1490.5,311.8 L1486.6,316.8 L1490.4,326.2 L1496.0,339.3 L1503.5,343.0 L1512.9,348.7 L1526.0,343.0 L1527.8,359.9 L1542.8,361.8 M1542.8,361.8 L1548.5,376.8 L1546.6,395.5 L1542.8,410.5 L1546.6,427.3 L1540.0,441.4 M1540.0,441.4 L1531.6,451.7 M1542.8,361.8 L1557.8,356.1 L1574.7,348.7 L1589.7,346.8 L1590.6,363.6 L1595.3,374.9 L1606.5,378.6 L1621.5,386.1 L1636.5,391.7 L1647.4,396.8 L1648.7,411.0 L1652.6,426.4 L1674.5,427.7 L1675.7,436.7 L1683.5,450.9 L1679.6,462.5 L1677.0,471.5 M1540.0,441.4 L1546.6,459.2 L1550.3,476.1 L1556.0,492.9 L1561.5,508.3 M1677.0,471.5 L1664.1,464.4 L1637.1,467.6 L1630.7,474.1 L1628.1,481.8 L1622.7,502.1 M1622.7,502.1 L1607.7,499.2 L1599.3,506.9 L1586.1,500.5 L1579.0,496.5 L1568.5,509.9 L1561.5,508.3 M1561.5,508.3 L1554.1,532.3 L1552.2,551.0 L1554.1,564.3 L1544.8,575.5 L1535.4,594.3 L1531.6,613.0 L1527.9,622.4 L1529.8,631.7 L1533.5,650.5 L1535.4,665.5 L1529.8,678.6 L1527.9,691.7 L1521.3,701.1 L1520.4,725.4 L1522.3,732.9 L1514.8,744.2 L1512.9,762.9 L1511.0,781.6 L1509.2,792.9 L1509.2,796.8 L1514.8,815.5 L1520.5,826.8 L1510.1,831.5 L1516.7,838.0 L1513.0,853.0 L1514.8,862.4 L1511.1,875.5 L1505.5,886.7 L1503.6,899.8 L1494.2,911.1 L1492.3,927.9 L1496.1,939.2 L1505.5,935.4 L1506.4,952.3 L1511.1,961.7 L1535.4,961.7 L1553.2,968.2 M1551.4,974.8 L1551.4,1019.8 L1572.9,1022.6 M1622.7,502.1 L1642.3,514.4 L1654.2,523.1 L1666.1,531.9 L1675.7,538.4 L1682.3,541.5 L1681.7,548.6 L1676.9,556.5 L1672.5,567.0 L1682.7,569.4 L1696.7,572.3 L1706.5,569.4 L1716.4,559.6 L1718.7,544.9 M1718.7,544.9 L1722.3,524.0 L1713.9,522.0 L1706.8,510.7 L1705.6,501.8 L1696.0,499.2 L1679.3,499.2 L1679.3,485.8 L1677.0,471.5 M1718.7,544.9 L1728.2,545.4 L1730.0,554.8 L1729.0,565.2 L1719.2,572.8 L1706.5,582.1 L1699.5,590.5 L1689.7,603.2 L1682.7,610.2 M1682.7,610.2 L1678.4,615.8 L1675.6,634.1 L1674.2,649.5 L1672.8,656.8 M1682.7,610.2 L1689.7,607.4 L1705.1,618.6 L1724.8,631.3 L1737.5,645.3 L1733.2,659.4" fill="none" stroke="#a6a6a6" stroke-width="1.5" stroke-linejoin="round" stroke-linecap="round"/>
</g>
<circle cx="1589.4" cy="536.1" r="19.5" fill="#acdde3" fill-opacity="0.9"/>
<circle cx="1590.3" cy="537.4" r="11.0" fill="#82d0c0" fill-opacity="0.8"/>
<circle cx="1593.4" cy="566.4" r="23.2" fill="#b0dcc4" fill-opacity="0.85"/>
<circle cx="1588.1" cy="515.3" r="23.2" fill="#b1dc9f" fill-opacity="0.9"/>
<circle cx="1588.1" cy="515.3" r="19.5" fill="#80c874" fill-opacity="0.85"/>
<circle cx="1590.0" cy="518.0" r="15.5" fill="#72c7a4" fill-opacity="0.9"/>
<circle cx="1612.4" cy="506.5" r="20.0" fill="#8fd3bd" fill-opacity="0.9"/>
<circle cx="1611.0" cy="507.0" r="15.0" fill="#72c7b5" fill-opacity="0.9"/>
<circle cx="1589.2" cy="514.2" r="7.2" fill="#6cc6cb" fill-opacity="0.9"/>
<circle cx="1590.3" cy="537.4" r="5.0" fill="#6cc6c8" fill-opacity="0.8"/>
<circle cx="1610.2" cy="507.1" r="8.3" fill="#66c5c9" fill-opacity="0.9"/>
<circle cx="1610.2" cy="506.8" r="3.3" fill="#5b86b7" fill-opacity="0.95"/>
<circle cx="1593.4" cy="566.2" r="14.9" fill="#8ed29e" fill-opacity="0.95"/>
<circle cx="1593.7" cy="566.1" r="11.9" fill="#72c7a2" fill-opacity="0.95"/>
<circle cx="1624.3" cy="530.5" r="7.7" fill="#b0dca0" fill-opacity="0.95"/>
<circle cx="1624.3" cy="530.5" r="4.0" fill="#84cb8c" fill-opacity="0.95"/>
<circle cx="1612.4" cy="532.5" r="5.5" fill="#9fdad0" fill-opacity="0.8"/>
<circle cx="1614.4" cy="579.4" r="2.8" fill="#a9dcc0" fill-opacity="0.9"/>
<circle cx="1682.2" cy="542.2" r="4.9" fill="#a9dfe6" fill-opacity="0.9"/>
<circle cx="1677.1" cy="555.3" r="6.3" fill="#a9dfe6" fill-opacity="0.9"/>
<circle cx="1649.2" cy="559.5" r="5.9" fill="#b0e0d8" fill-opacity="0.9"/>
<circle cx="1667.0" cy="572.4" r="4.9" fill="#b5dea0" fill-opacity="0.9"/>
<circle cx="1721.4" cy="562.6" r="5.3" fill="#a9dfe6" fill-opacity="0.9"/>
<circle cx="1645.9" cy="610.8" r="8.7" fill="#96d58e" fill-opacity="0.9"/>
<circle cx="1645.9" cy="610.8" r="5.0" fill="#6cc9b0" fill-opacity="0.8"/>
<circle cx="1645.9" cy="610.8" r="2.8" fill="#4f7fb0" fill-opacity="0.95"/>
<circle cx="1553.2" cy="620.2" r="10.5" fill="#9bd79a" fill-opacity="0.9"/>
<circle cx="1553.2" cy="620.2" r="6.0" fill="#7ccdb0" fill-opacity="0.8"/>
<circle cx="1605.9" cy="628.6" r="9.1" fill="#b0e0d8" fill-opacity="0.9"/>
<circle cx="1605.9" cy="628.6" r="3.5" fill="#90d6c0" fill-opacity="0.9"/>
<circle cx="1617.5" cy="642.0" r="4.2" fill="#b0e0d8" fill-opacity="0.9"/>
<circle cx="1552.5" cy="649.7" r="19.7" fill="#a3da98" fill-opacity="0.85"/>
<circle cx="1552.5" cy="649.7" r="14.0" fill="#83cf86" fill-opacity="0.8"/>
<circle cx="1552.5" cy="649.7" r="9.0" fill="#6cc9b0" fill-opacity="0.8"/>
<circle cx="1552.5" cy="649.7" r="4.2" fill="#4f7fb0" fill-opacity="0.95"/>
<circle cx="1582.0" cy="658.1" r="5.9" fill="#96d69a" fill-opacity="0.85"/>
<circle cx="1582.0" cy="658.1" r="3.0" fill="#7ccdb0" fill-opacity="0.8"/>
<circle cx="1674.0" cy="650.4" r="5.9" fill="#b0dc9c" fill-opacity="0.9"/>
<circle cx="1676.1" cy="673.1" r="15.0" fill="#86d1ac" fill-opacity="0.9"/>
<circle cx="1676.1" cy="673.1" r="8.0" fill="#6ec9c2" fill-opacity="0.8"/>
<circle cx="1684.6" cy="722.8" r="17.4" fill="#b3dd98" fill-opacity="0.9"/>
<circle cx="1685.5" cy="723.5" r="12.2" fill="#86cc88" fill-opacity="0.9"/>
<circle cx="1676.5" cy="721.0" r="2.2" fill="#6cc9c8" fill-opacity="0.9"/>
<circle cx="1559.0" cy="737.2" r="2.6" fill="#74c9a8" fill-opacity="0.95"/>
<circle cx="1591.5" cy="710.2" r="2.2" fill="#b0dcb0" fill-opacity="0.95"/>
<text x="737.4" y="354.7" font-size="24.4">Peru</text>
<text x="1026.9" y="377.2" font-size="24.4">Brazil</text>
<text x="863.8" y="435.9" font-size="24.4">Bolivia</text>
<text x="767.4" y="524.2" font-size="24.4">Chile</text>
<text x="961.1" y="520.4" font-size="24.4">Paraguay</text>
<text x="849.9" y="708.0" font-size="24.4">Argentina</text>
<text x="1028.5" y="699.1" font-size="24.4">Uruguay</text>
<text x="1440.5" y="349.8" font-size="24.4">Peru</text>
<text x="1730.4" y="370.4" font-size="24.4">Brazil</text>
<text x="1566.9" y="428.4" font-size="24.4">Bolivia</text>
<text x="1469.6" y="517.0" font-size="24.4">Chile</text>
<text x="1664.9" y="512.7" font-size="24.4">Paraguay</text>
<text x="1574.0" y="706.8" font-size="24.4">Argentina</text>
<text x="1731.4" y="692.2" font-size="24.4">Uruguay</text>
<text x="1251.3" y="432.8" font-size="20.6">Number of Records</text>
<circle cx="1294.4" cy="449.8" r="3" fill="#e4e4e4" stroke="#b9b9b9" stroke-width="1.6"/>
<path d="M1269.65,463.5 L1319.35,463.5 A27.2,27.2 0 0 1 1319.35,485.6 L1269.65,485.6 A27.2,27.2 0 0 1 1269.65,463.5 Z" fill="#dcdcdc"/>
<path d="M1319.35,463.5 A27.2,27.2 0 0 1 1319.35,485.6 M1269.65,485.6 A27.2,27.2 0 0 1 1269.65,463.5" fill="none" stroke="#b5b5b5" stroke-width="1.8"/>
<path d="M1257.95,488.6 L1331.05,488.6 A38.2,38.2 0 0 1 1331.05,510.8 L1257.95,510.8 A38.2,38.2 0 0 1 1257.95,488.6 Z" fill="#dcdcdc"/>
<path d="M1331.05,488.6 A38.2,38.2 0 0 1 1331.05,510.8 M1257.95,510.8 A38.2,38.2 0 0 1 1257.95,488.6" fill="none" stroke="#b5b5b5" stroke-width="1.8"/>
<path d="M1250.32,513.3 L1338.68,513.3 A45.6,45.6 0 0 1 1338.68,535.9 L1250.32,535.9 A45.6,45.6 0 0 1 1250.32,513.3 Z" fill="#dcdcdc"/>
<path d="M1338.68,513.3 A45.6,45.6 0 0 1 1338.68,535.9 M1250.32,535.9 A45.6,45.6 0 0 1 1250.32,513.3" fill="none" stroke="#b5b5b5" stroke-width="1.8"/>
<text x="1355.6" y="455.4" font-size="19.6">1</text>
<text x="1355.6" y="480.5" font-size="19.6">100</text>
<text x="1355.6" y="505.9" font-size="19.6">200</text>
<text x="1355.6" y="530.7" font-size="19.6">281</text>
<text x="1251.3" y="564.9" font-size="20.6">Year of Isolation</text>
<rect x="1248.9" y="576.3" width="17.6" height="17.6" fill="#a3a6d4"/>
<text x="1278.6" y="590.5" font-size="19.6">Null</text>
<rect x="1248.9" y="601.3" width="17.6" height="17.6" fill="#b0e0e6"/>
<text x="1278.6" y="615.5" font-size="19.6">1992</text>
<rect x="1248.9" y="626.4" width="17.6" height="17.6" fill="#b3e0da"/>
<text x="1278.6" y="640.6" font-size="19.6">1993</text>
<rect x="1248.9" y="651.4" width="17.6" height="17.6" fill="#b3e0cc"/>
<text x="1278.6" y="665.6" font-size="19.6">1994</text>
<rect x="1248.9" y="676.5" width="17.6" height="17.6" fill="#b1dfbc"/>
<text x="1278.6" y="690.7" font-size="19.6">1995</text>
<rect x="1248.9" y="701.5" width="17.6" height="17.6" fill="#b2dfa8"/>
<text x="1278.6" y="715.8" font-size="19.6">1996</text>
<rect x="1248.9" y="726.6" width="17.6" height="17.6" fill="#b2dea8"/>
<text x="1278.6" y="740.8" font-size="19.6">1997</text>
<rect x="1248.9" y="751.6" width="17.6" height="17.6" fill="#c3e0a6"/>
<text x="1278.6" y="765.9" font-size="19.6">1998</text>
<rect x="1248.9" y="776.7" width="17.6" height="17.6" fill="#d0e4a4"/>
<text x="1278.6" y="790.9" font-size="19.6">1999</text>
<rect x="1248.9" y="801.8" width="17.6" height="17.6" fill="#e0e9a5"/>
<text x="1278.6" y="816.0" font-size="19.6">2000</text>
<rect x="1248.9" y="826.8" width="17.6" height="17.6" fill="#eeeba0"/>
<text x="1278.6" y="841.0" font-size="19.6">2001</text>
<rect x="1248.9" y="851.8" width="17.6" height="17.6" fill="#f0d79c"/>
<text x="1278.6" y="866.0" font-size="19.6">2002</text>
<text x="-1.2" y="31.2" font-size="42" font-weight="bold">a</text>
<text x="348.5" y="203.7" font-size="29" text-anchor="middle">WHO-reported cholera</text>
<text x="348.5" y="237.5" font-size="29" text-anchor="middle">cases, Argentina</text>
<line x1="94.3" y1="248.2" x2="94.3" y2="760.0" stroke="#000" stroke-width="3.2"/>
<line x1="92.7" y1="758.3" x2="602.6" y2="758.3" stroke="#000" stroke-width="3.4"/>
<text x="81.5" y="765.1" font-size="20.2" text-anchor="end">0</text>
<line x1="94.0" y1="656.8" x2="107.2" y2="656.8" stroke="#000" stroke-width="3.2"/>
<text x="81.5" y="663.4" font-size="20.2" text-anchor="end">500</text>
<line x1="94.0" y1="555.1" x2="107.2" y2="555.1" stroke="#000" stroke-width="3.2"/>
<text x="81.5" y="561.7" font-size="20.2" text-anchor="end">1,000</text>
<line x1="94.0" y1="453.4" x2="107.2" y2="453.4" stroke="#000" stroke-width="3.2"/>
<text x="81.5" y="460.0" font-size="20.2" text-anchor="end">1,500</text>
<line x1="94.0" y1="351.6" x2="107.2" y2="351.6" stroke="#000" stroke-width="3.2"/>
<text x="81.5" y="358.2" font-size="20.2" text-anchor="end">2,000</text>
<line x1="94.0" y1="249.8" x2="107.2" y2="249.8" stroke="#000" stroke-width="3.2"/>
<text x="81.5" y="256.4" font-size="20.2" text-anchor="end">2,500</text>
<line x1="150.9" y1="746.0" x2="150.9" y2="758.0" stroke="#000" stroke-width="3"/>
<line x1="207.5" y1="746.0" x2="207.5" y2="758.0" stroke="#000" stroke-width="3"/>
<line x1="264.1" y1="746.0" x2="264.1" y2="758.0" stroke="#000" stroke-width="3"/>
<line x1="320.7" y1="746.0" x2="320.7" y2="758.0" stroke="#000" stroke-width="3"/>
<line x1="377.3" y1="746.0" x2="377.3" y2="758.0" stroke="#000" stroke-width="3"/>
<line x1="433.9" y1="746.0" x2="433.9" y2="758.0" stroke="#000" stroke-width="3"/>
<line x1="490.5" y1="746.0" x2="490.5" y2="758.0" stroke="#000" stroke-width="3"/>
<line x1="547.1" y1="746.0" x2="547.1" y2="758.0" stroke="#000" stroke-width="3"/>
<text x="122.6" y="791.5" font-size="19.9" text-anchor="middle">1991</text>
<text x="179.2" y="791.5" font-size="19.9" text-anchor="middle">1992</text>
<text x="235.8" y="791.5" font-size="19.9" text-anchor="middle">1993</text>
<text x="292.4" y="791.5" font-size="19.9" text-anchor="middle">1994</text>
<text x="349.0" y="791.5" font-size="19.9" text-anchor="middle">1995</text>
<text x="405.6" y="791.5" font-size="19.9" text-anchor="middle">1996</text>
<text x="462.2" y="791.5" font-size="19.9" text-anchor="middle">1997</text>
<text x="518.8" y="791.5" font-size="19.9" text-anchor="middle">1998</text>
<text x="575.4" y="791.5" font-size="19.9" text-anchor="middle">1999</text>
<text x="349.0" y="824.7" font-size="20.6" text-anchor="middle">Year</text>
<text transform="translate(18.2,503.5) rotate(-90)" font-size="20.6" text-anchor="middle">Num. cases</text>
<polyline points="122.6,758.5 179.2,646.2 235.7,335.5 292.1,578.0 348.7,720.3 405.3,662.0 461.7,628.8 518.2,755.8 574.8,758.3" fill="none" stroke="#000" stroke-width="7.2" stroke-linejoin="miter"/>
<rect x="114.6" y="750.5" width="16" height="16" fill="#000"/>
<rect x="171.2" y="638.2" width="16" height="16" fill="#000"/>
<rect x="227.7" y="327.5" width="16" height="16" fill="#000"/>
<rect x="284.1" y="570.0" width="16" height="16" fill="#000"/>
<rect x="340.7" y="712.3" width="16" height="16" fill="#000"/>
<rect x="397.3" y="654.0" width="16" height="16" fill="#000"/>
<rect x="453.7" y="620.8" width="16" height="16" fill="#000"/>
<rect x="510.2" y="747.8" width="16" height="16" fill="#000"/>
<rect x="566.8" y="750.3" width="16" height="16" fill="#000"/>
<text x="-0.9" y="1126.6" font-size="42" font-weight="bold">c</text>
<text x="903.5" y="1139.8" font-size="29" text-anchor="middle"><tspan font-style="italic">V. cholerae</tspan> received by INEI-ANLIS, 1992–2002 (<tspan font-style="italic">n</tspan> = 3,631)</text>
<text x="193.8" y="1165.0" font-size="20.6" text-anchor="middle">Serogroup</text>
<text x="1569.8" y="1169.9" font-size="20.4" text-anchor="middle">Source</text>
<line x1="351.0" y1="1343.3" x2="1680.0" y2="1343.3" stroke="#efefef" stroke-width="1.6"/>
<line x1="351.0" y1="1290.2" x2="1680.0" y2="1290.2" stroke="#efefef" stroke-width="1.6"/>
<line x1="351.0" y1="1237.0" x2="1680.0" y2="1237.0" stroke="#efefef" stroke-width="1.6"/>
<line x1="351.0" y1="1183.9" x2="1680.0" y2="1183.9" stroke="#efefef" stroke-width="1.6"/>
<line x1="351.0" y1="1563.4" x2="1680.0" y2="1563.4" stroke="#efefef" stroke-width="1.6"/>
<line x1="351.0" y1="1510.3" x2="1680.0" y2="1510.3" stroke="#efefef" stroke-width="1.6"/>
<line x1="351.0" y1="1457.1" x2="1680.0" y2="1457.1" stroke="#efefef" stroke-width="1.6"/>
<line x1="351.0" y1="1404.0" x2="1680.0" y2="1404.0" stroke="#efefef" stroke-width="1.6"/>
<line x1="351.0" y1="1783.5" x2="1680.0" y2="1783.5" stroke="#efefef" stroke-width="1.6"/>
<line x1="351.0" y1="1730.4" x2="1680.0" y2="1730.4" stroke="#efefef" stroke-width="1.6"/>
<line x1="351.0" y1="1677.2" x2="1680.0" y2="1677.2" stroke="#efefef" stroke-width="1.6"/>
<line x1="351.0" y1="1624.1" x2="1680.0" y2="1624.1" stroke="#efefef" stroke-width="1.6"/>
<path d="M419.2,1396.4 L419.2,1376.7 L429.0,1392.2 L438.9,1321.5 L448.7,1364.5 L458.6,1391.1 L458.6,1396.4 Z M527.5,1396.4 L527.5,1188.2 L537.4,1283.8 L547.2,1231.7 L557.0,1344.9 L566.9,1308.7 L576.8,1345.9 L576.8,1396.4 Z M635.9,1396.4 L635.9,1326.3 L645.7,1335.3 L655.5,1212.6 L665.4,1290.2 L675.2,1357.6 L685.1,1365.6 L685.1,1396.4 Z M872.2,1396.4 L872.2,1396.4 L882.1,1377.8 L892.0,1276.7 L901.8,1301.9 L911.6,1377.8 L921.5,1380.7 L931.3,1373.1 L931.3,1396.4 Z M1118.5,1396.4 L1118.5,1393.7 L1128.3,1393.7 L1128.3,1396.4 Z" fill="#e8807f" stroke="#d63a3a" stroke-width="2.2" stroke-linejoin="round"/>
<path d="M419.2,1396.4 L419.2,1379.4 L429.0,1394.3 L438.9,1327.3 L448.7,1366.7 L458.6,1392.2 L458.6,1396.4 Z M488.1,1396.4 L488.1,1396.4 L497.9,1350.7 L507.8,1361.3 L517.6,1376.2 L527.5,1188.2 L537.4,1284.8 L547.2,1236.0 L557.0,1346.5 L566.9,1310.3 L576.8,1345.9 L586.6,1393.7 L596.5,1393.7 L606.3,1385.4 L616.1,1358.2 L626.0,1346.9 L635.9,1350.7 L645.7,1343.3 L655.5,1265.7 L665.4,1311.4 L675.2,1359.2 L685.1,1372.0 L685.1,1396.4 Z M773.8,1396.4 L773.8,1392.2 L783.6,1367.7 L793.5,1360.3 L803.3,1372.0 L813.1,1370.4 L813.1,1396.4 Z M872.2,1396.4 L872.2,1396.4 L882.1,1388.1 L892.0,1387.3 L901.8,1349.8 L911.6,1393.7 L921.5,1392.5 L931.3,1393.7 L980.6,1386.3 L990.5,1391.9 L1010.2,1341.3 L1020.0,1362.8 L1029.8,1299.1 L1039.7,1392.8 L1049.5,1367.5 L1059.4,1377.8 L1069.2,1381.5 L1079.1,1386.3 L1089.0,1395.1 L1089.0,1396.4 Z M1128.3,1396.4 L1128.3,1394.7 L1138.2,1393.2 L1148.0,1394.7 L1157.9,1394.7 L1157.9,1396.4 Z" fill="#717186" stroke="#3d3d5c" stroke-width="1.8" stroke-linejoin="round"/>
<line x1="497.9" y1="1350.7" x2="497.9" y2="1333.7" stroke="#d63a3a" stroke-width="1.6"/>
<line x1="704.8" y1="1396.4" x2="704.8" y2="1387.9" stroke="#3d3d5c" stroke-width="1.6"/>
<line x1="813.1" y1="1396.4" x2="813.1" y2="1369.3" stroke="#d63a3a" stroke-width="1.8"/>
<path d="M419.2,1616.5 L419.2,1616.0 L429.0,1607.6 L438.9,1612.8 L448.7,1600.7 L458.6,1612.8 L468.4,1606.3 L488.1,1615.2 L497.9,1611.0 L507.8,1578.1 L517.6,1605.8 L527.5,1591.3 L537.4,1605.8 L547.2,1605.8 L557.0,1613.2 L566.9,1602.5 L576.8,1616.0 L576.8,1616.5 Z M616.1,1616.5 L616.1,1614.9 L626.0,1596.0 L635.9,1542.5 L645.7,1546.3 L655.5,1581.0 L665.4,1483.2 L675.2,1603.4 L685.1,1603.4 L695.0,1595.0 L704.8,1614.7 L734.4,1613.2 L744.2,1609.1 L754.0,1570.7 L763.9,1582.8 L773.8,1593.1 L783.6,1603.4 L793.5,1615.2 L803.3,1591.3 L813.1,1615.2 L823.0,1603.9 L842.7,1607.6 L852.5,1615.2 L862.4,1581.9 L872.2,1603.9 L882.1,1592.3 L892.0,1531.7 L901.8,1562.2 L911.6,1568.8 L921.5,1600.0 L931.3,1592.6 L990.5,1614.7 L1000.3,1613.2 L1010.2,1554.1 L1020.0,1611.0 L1029.8,1585.7 L1039.7,1611.0 L1039.7,1616.5 Z M1089.0,1616.5 L1089.0,1616.0 L1108.7,1614.7 L1118.5,1612.8 L1128.3,1612.8 L1138.2,1550.4 L1148.0,1614.7 L1157.9,1614.7 L1177.6,1605.8 L1226.8,1612.8 L1236.7,1612.8 L1246.5,1614.7 L1266.2,1614.7 L1276.1,1604.4 L1276.1,1616.5 Z M1354.9,1616.5 L1354.9,1605.3 L1364.8,1559.4 L1384.5,1598.2 L1463.2,1614.7 L1492.8,1614.7 L1502.6,1612.8 L1512.5,1614.7 L1620.8,1614.7 L1620.8,1616.5 Z" fill="#94aecb" stroke="#6a8db5" stroke-width="1.8" stroke-linejoin="round"/>
<line x1="596.5" y1="1616.5" x2="596.5" y2="1606.3" stroke="#6a8db5" stroke-width="1.6"/>
<line x1="1059.4" y1="1616.5" x2="1059.4" y2="1613.8" stroke="#6a8db5" stroke-width="1.6"/>
<path d="M517.6,1836.6 L517.6,1836.6 L527.5,1723.5 L537.4,1836.6 L537.4,1836.6 Z M931.3,1836.6 L931.3,1835.0 L980.6,1835.0 L980.6,1836.6 Z M1118.5,1836.6 L1118.5,1835.0 L1128.3,1835.0 L1128.3,1836.6 Z" fill="#94aecb" stroke="#6a8db5" stroke-width="1.6" stroke-linejoin="round"/>
<line x1="655.5" y1="1836.6" x2="655.5" y2="1825.4" stroke="#6a8db5" stroke-width="1.6"/>
<line x1="695.9" y1="1836.6" x2="695.9" y2="1832.3" stroke="#6a8db5" stroke-width="1.4"/>
<line x1="101.0" y1="1177.4" x2="361.0" y2="1177.4" stroke="#000" stroke-width="3.0"/>
<line x1="361.0" y1="1178.0" x2="1682.0" y2="1178.0" stroke="#000" stroke-width="1.8"/>
<line x1="361.0" y1="1177.0" x2="361.0" y2="1837.0" stroke="#000" stroke-width="2"/>
<line x1="1681.0" y1="1177.0" x2="1681.0" y2="1838.0" stroke="#000" stroke-width="2.6"/>
<line x1="101.0" y1="1397.4" x2="1682.3" y2="1397.4" stroke="#000" stroke-width="3"/>
<line x1="101.0" y1="1617.5" x2="1682.3" y2="1617.5" stroke="#000" stroke-width="3"/>
<line x1="101.0" y1="1836.9" x2="1682.3" y2="1836.9" stroke="#000" stroke-width="3"/>
<line x1="409.3" y1="1838.0" x2="409.3" y2="1846.0" stroke="#e6e6e6" stroke-width="1.2"/>
<text x="409.3" y="1874.3" font-size="20.2" text-anchor="middle">1992</text>
<line x1="527.5" y1="1838.0" x2="527.5" y2="1846.0" stroke="#e6e6e6" stroke-width="1.2"/>
<text x="527.5" y="1874.3" font-size="20.2" text-anchor="middle">1993</text>
<line x1="645.7" y1="1838.0" x2="645.7" y2="1846.0" stroke="#e6e6e6" stroke-width="1.2"/>
<text x="645.7" y="1874.3" font-size="20.2" text-anchor="middle">1994</text>
<line x1="763.9" y1="1838.0" x2="763.9" y2="1846.0" stroke="#e6e6e6" stroke-width="1.2"/>
<text x="763.9" y="1874.3" font-size="20.2" text-anchor="middle">1995</text>
<line x1="882.1" y1="1838.0" x2="882.1" y2="1846.0" stroke="#e6e6e6" stroke-width="1.2"/>
<text x="882.1" y="1874.3" font-size="20.2" text-anchor="middle">1996</text>
<line x1="1000.3" y1="1838.0" x2="1000.3" y2="1846.0" stroke="#e6e6e6" stroke-width="1.2"/>
<text x="1000.3" y="1874.3" font-size="20.2" text-anchor="middle">1997</text>
<line x1="1118.5" y1="1838.0" x2="1118.5" y2="1846.0" stroke="#e6e6e6" stroke-width="1.2"/>
<text x="1118.5" y="1874.3" font-size="20.2" text-anchor="middle">1998</text>
<line x1="1236.7" y1="1838.0" x2="1236.7" y2="1846.0" stroke="#e6e6e6" stroke-width="1.2"/>
<text x="1236.7" y="1874.3" font-size="20.2" text-anchor="middle">1999</text>
<line x1="1354.9" y1="1838.0" x2="1354.9" y2="1846.0" stroke="#e6e6e6" stroke-width="1.2"/>
<text x="1354.9" y="1874.3" font-size="20.2" text-anchor="middle">2000</text>
<line x1="1473.1" y1="1838.0" x2="1473.1" y2="1846.0" stroke="#e6e6e6" stroke-width="1.2"/>
<text x="1473.1" y="1874.3" font-size="20.2" text-anchor="middle">2001</text>
<line x1="1591.3" y1="1838.0" x2="1591.3" y2="1846.0" stroke="#e6e6e6" stroke-width="1.2"/>
<text x="1591.3" y="1874.3" font-size="20.2" text-anchor="middle">2002</text>
<text x="1020.8" y="1906.6" font-size="20.8" text-anchor="middle">Year of isolate receipt (by month)</text>
<text transform="translate(73.2,1499.8) rotate(-90)" font-size="24.9" text-anchor="middle">Number of records</text>
<text x="345.0" y="1201.3" font-size="20.3" text-anchor="end">200</text>
<text x="345.0" y="1246.1" font-size="20.3" text-anchor="end">150</text>
<text x="345.0" y="1300.0" font-size="20.3" text-anchor="end">100</text>
<text x="345.0" y="1352.5" font-size="20.3" text-anchor="end">50</text>
<text x="345.0" y="1389.3" font-size="20.3" text-anchor="end">0</text>
<text x="194.1" y="1292.3" font-size="20.6" text-anchor="middle">O1</text>
<text x="345.0" y="1421.4" font-size="20.3" text-anchor="end">200</text>
<text x="345.0" y="1466.2" font-size="20.3" text-anchor="end">150</text>
<text x="345.0" y="1520.1" font-size="20.3" text-anchor="end">100</text>
<text x="345.0" y="1572.6" font-size="20.3" text-anchor="end">50</text>
<text x="345.0" y="1609.4" font-size="20.3" text-anchor="end">0</text>
<text x="194.1" y="1512.4" font-size="20.6" text-anchor="middle">Non-O1</text>
<text x="345.0" y="1641.5" font-size="20.3" text-anchor="end">200</text>
<text x="345.0" y="1686.3" font-size="20.3" text-anchor="end">150</text>
<text x="345.0" y="1740.2" font-size="20.3" text-anchor="end">100</text>
<text x="345.0" y="1792.7" font-size="20.3" text-anchor="end">50</text>
<text x="345.0" y="1829.5" font-size="20.3" text-anchor="end">0</text>
<text x="195.5" y="1709.8" font-size="20.7" text-anchor="middle">Autoagglutinable,</text>
<text x="195.5" y="1734.1" font-size="20.7" text-anchor="middle">no data, or O139</text>
<circle cx="1574.2" cy="1290" r="64.8" fill="#000"/>
<path d="M1574.2,1290 L1574.20,1225.20 A64.8,64.8 0 0 0 1554.18,1228.37 Z" fill="#e0e1e3" stroke="#000" stroke-width="1.6" stroke-linejoin="round"/>
<circle cx="1572.1" cy="1509.5" r="50.5" fill="#000"/>
<path d="M1572.1,1509.5 L1572.10,1459.00 A50.5,50.5 0 0 0 1558.01,1557.99 Z" fill="#e0e1e3" stroke="#000" stroke-width="1.6" stroke-linejoin="round"/>
<circle cx="1571.2" cy="1731.7" r="16.8" fill="#000"/>
<path d="M1571.2,1731.7 L1571.20,1714.90 A16.8,16.8 0 0 0 1562.20,1717.52 Z" fill="#e0e1e3" stroke="#000" stroke-width="1" stroke-linejoin="round"/>
<text x="1748.9" y="1155.0" font-size="24.7" font-weight="bold">Serotype</text>
<rect x="1694.1" y="1177.2" width="32.9" height="32.6" fill="#e8807f" stroke="#6f6f6f" stroke-width="1.6"/>
<text x="1748.4" y="1202.6" font-size="24.3">Inaba</text>
<rect x="1694.1" y="1220.1" width="32.9" height="32.6" fill="#717186" stroke="#6f6f6f" stroke-width="1.6"/>
<text x="1748.4" y="1245.5" font-size="24.3">Ogawa</text>
<rect x="1694.1" y="1304.3" width="32.9" height="32.6" fill="#94aecb" stroke="#6f6f6f" stroke-width="1.6"/>
<text x="1751.0" y="1303.0" font-size="24.6">Non-O1/negative</text>
<text x="1751.0" y="1332.7" font-size="24.6">reaction; O139;</text>
<text x="1751.0" y="1362.5" font-size="24.6">autoagglutinable</text>
<text x="1748.4" y="1453.3" font-size="24.7" font-weight="bold">Source</text>
<rect x="1696.8" y="1476.4" width="34.6" height="34.3" fill="#000"/>
<text x="1748.4" y="1502.6" font-size="24.4">Clinical</text>
<rect x="1697.6" y="1516.2" width="33" height="32.6" fill="#e0e1e3" stroke="#000" stroke-width="1.6"/>
<text x="1750.7" y="1541.1" font-size="24.7">Environmental /</text>
<text x="1750.7" y="1570.9" font-size="24.7">no data</text>
<text x="-1.0" y="1997.0" font-size="42" font-weight="bold">d</text>
<text x="1081.5" y="2007.5" font-size="29" text-anchor="middle">Sequenced isolates (<tspan font-style="italic">n</tspan> = 490)</text>
<text x="195.4" y="2028.7" font-size="20.6" text-anchor="middle">Serogroup</text>
<line x1="330.0" y1="2155.0" x2="1953.4" y2="2155.0" stroke="#efefef" stroke-width="1.6"/>
<line x1="330.0" y1="2081.8" x2="1953.4" y2="2081.8" stroke="#efefef" stroke-width="1.6"/>
<line x1="330.0" y1="2346.0" x2="1953.4" y2="2346.0" stroke="#efefef" stroke-width="1.6"/>
<line x1="330.0" y1="2272.8" x2="1953.4" y2="2272.8" stroke="#efefef" stroke-width="1.6"/>
<path d="M411.5,2228.2 L411.5,2222.9 L420.0,2227.5 L430.4,2177.5 L438.9,2197.7 L438.9,2228.2 Z M847.4,2228.2 L847.4,2226.3 L856.2,2227.6 L874.7,2224.5 L883.4,2209.6 L883.4,2228.2 Z" fill="#e8807f" stroke="#d63a3a" stroke-width="1.8" stroke-linejoin="round"/>
<path d="M412.0,2228.2 L412.0,2224.1 L421.3,2227.8 L430.4,2177.5 L438.9,2197.7 L438.9,2228.2 Z M474.3,2228.2 L474.3,2228.2 L485.0,2225.9 L502.0,2212.7 L512.1,2050.8 L521.0,2143.3 L528.8,2124.7 L548.1,2224.1 L592.0,2226.4 L620.0,2227.3 L628.6,2225.9 L629.8,2228.2 L629.8,2228.2 Z M865.0,2228.2 L865.0,2228.2 L883.4,2224.8 L929.1,2222.3 L937.9,2227.8 L945.8,2204.3 L956.3,2202.1 L965.1,2227.5 L1065.2,2227.5 L1065.2,2228.2 Z" fill="#717186" stroke="#3d3d5c" stroke-width="1.6" stroke-linejoin="round"/>
<line x1="438.9" y1="2228.2" x2="438.9" y2="2197.7" stroke="#d63a3a" stroke-width="1.8"/>
<path d="M419.9,2419.2 L419.9,2414.2 L430.4,2418.8 L430.4,2419.2 Z M458.5,2419.2 L458.5,2418.0 L474.3,2417.4 L484.8,2413.9 L493.6,2406.2 L502.4,2407.6 L512.2,2407.6 L512.2,2419.2 Z M530.5,2419.2 L530.5,2418.0 L547.4,2418.0 L547.4,2419.2 Z M848.4,2419.2 L848.4,2418.5 L855.4,2416.0 L864.9,2404.6 L874.7,2413.9 L883.5,2410.7 L927.4,2417.4 L945.0,2418.3 L945.0,2419.2 Z M1281.0,2419.2 L1281.0,2416.6 L1290.0,2418.5 L1700.0,2418.5 L1720.0,2417.4 L1760.0,2417.4 L1881.0,2418.5 L1881.0,2419.2 Z" fill="#94aecb" stroke="#6a8db5" stroke-width="1.6" stroke-linejoin="round"/>
<line x1="100.0" y1="2038.6" x2="339.3" y2="2038.6" stroke="#000" stroke-width="2.6"/>
<line x1="339.3" y1="2038.6" x2="1955.4" y2="2038.6" stroke="#000" stroke-width="1.8"/>
<line x1="339.3" y1="2038.0" x2="339.3" y2="2421.0" stroke="#000" stroke-width="2"/>
<line x1="1954.4" y1="2038.0" x2="1954.4" y2="2421.0" stroke="#000" stroke-width="2.6"/>
<line x1="100.0" y1="2229.7" x2="1955.7" y2="2229.7" stroke="#000" stroke-width="3"/>
<line x1="100.0" y1="2420.3" x2="1955.7" y2="2420.3" stroke="#000" stroke-width="3"/>
<line x1="401.5" y1="2421.0" x2="401.5" y2="2429.0" stroke="#e6e6e6" stroke-width="1.2"/>
<text x="401.5" y="2454.5" font-size="20.2" text-anchor="middle">1992</text>
<line x1="510.4" y1="2421.0" x2="510.4" y2="2429.0" stroke="#e6e6e6" stroke-width="1.2"/>
<text x="510.4" y="2454.5" font-size="20.2" text-anchor="middle">1993</text>
<line x1="619.2" y1="2421.0" x2="619.2" y2="2429.0" stroke="#e6e6e6" stroke-width="1.2"/>
<text x="619.2" y="2454.5" font-size="20.2" text-anchor="middle">1994</text>
<line x1="728.0" y1="2421.0" x2="728.0" y2="2429.0" stroke="#e6e6e6" stroke-width="1.2"/>
<text x="728.0" y="2454.5" font-size="20.2" text-anchor="middle">1995</text>
<line x1="836.9" y1="2421.0" x2="836.9" y2="2429.0" stroke="#e6e6e6" stroke-width="1.2"/>
<text x="836.9" y="2454.5" font-size="20.2" text-anchor="middle">1996</text>
<line x1="945.8" y1="2421.0" x2="945.8" y2="2429.0" stroke="#e6e6e6" stroke-width="1.2"/>
<text x="945.8" y="2454.5" font-size="20.2" text-anchor="middle">1997</text>
<line x1="1054.6" y1="2421.0" x2="1054.6" y2="2429.0" stroke="#e6e6e6" stroke-width="1.2"/>
<text x="1054.6" y="2454.5" font-size="20.2" text-anchor="middle">1998</text>
<line x1="1163.4" y1="2421.0" x2="1163.4" y2="2429.0" stroke="#e6e6e6" stroke-width="1.2"/>
<text x="1163.4" y="2454.5" font-size="20.2" text-anchor="middle">1999</text>
<line x1="1272.3" y1="2421.0" x2="1272.3" y2="2429.0" stroke="#e6e6e6" stroke-width="1.2"/>
<text x="1272.3" y="2454.5" font-size="20.2" text-anchor="middle">2000</text>
<line x1="1381.2" y1="2421.0" x2="1381.2" y2="2429.0" stroke="#e6e6e6" stroke-width="1.2"/>
<text x="1381.2" y="2454.5" font-size="20.2" text-anchor="middle">2001</text>
<line x1="1490.0" y1="2421.0" x2="1490.0" y2="2429.0" stroke="#e6e6e6" stroke-width="1.2"/>
<text x="1490.0" y="2454.5" font-size="20.2" text-anchor="middle">2002</text>
<line x1="1598.8" y1="2421.0" x2="1598.8" y2="2429.0" stroke="#e6e6e6" stroke-width="1.2"/>
<text x="1598.8" y="2454.5" font-size="20.2" text-anchor="middle">2003</text>
<line x1="1707.7" y1="2421.0" x2="1707.7" y2="2429.0" stroke="#e6e6e6" stroke-width="1.2"/>
<text x="1707.7" y="2454.5" font-size="20.2" text-anchor="middle">2004</text>
<line x1="1816.5" y1="2421.0" x2="1816.5" y2="2429.0" stroke="#e6e6e6" stroke-width="1.2"/>
<text x="1816.5" y="2454.5" font-size="20.2" text-anchor="middle">2005</text>
<line x1="1925.4" y1="2421.0" x2="1925.4" y2="2429.0" stroke="#e6e6e6" stroke-width="1.2"/>
<text x="1925.4" y="2454.5" font-size="20.2" text-anchor="middle">2006</text>
<text x="1147.0" y="2487.7" font-size="20.8" text-anchor="middle">Year of isolate receipt (by month)</text>
<text transform="translate(74,2234.7) rotate(-90)" font-size="24.9" text-anchor="middle">Number of records</text>
<text x="320.0" y="2090.2" font-size="20.3" text-anchor="end">100</text>
<text x="320.0" y="2163.6" font-size="20.3" text-anchor="end">50</text>
<text x="320.0" y="2222.7" font-size="20.3" text-anchor="end">0</text>
<text x="320.0" y="2281.2" font-size="20.3" text-anchor="end">100</text>
<text x="320.0" y="2354.6" font-size="20.3" text-anchor="end">50</text>
<text x="320.0" y="2413.7" font-size="20.3" text-anchor="end">0</text>
<text x="194.4" y="2142.1" font-size="20.6" text-anchor="middle">O1</text>
<text x="195.6" y="2324.2" font-size="20.6" text-anchor="middle">Non-O1/O139,</text>
<text x="195.6" y="2348.9" font-size="20.6" text-anchor="middle">or no data</text>
</svg>
</body></html>
